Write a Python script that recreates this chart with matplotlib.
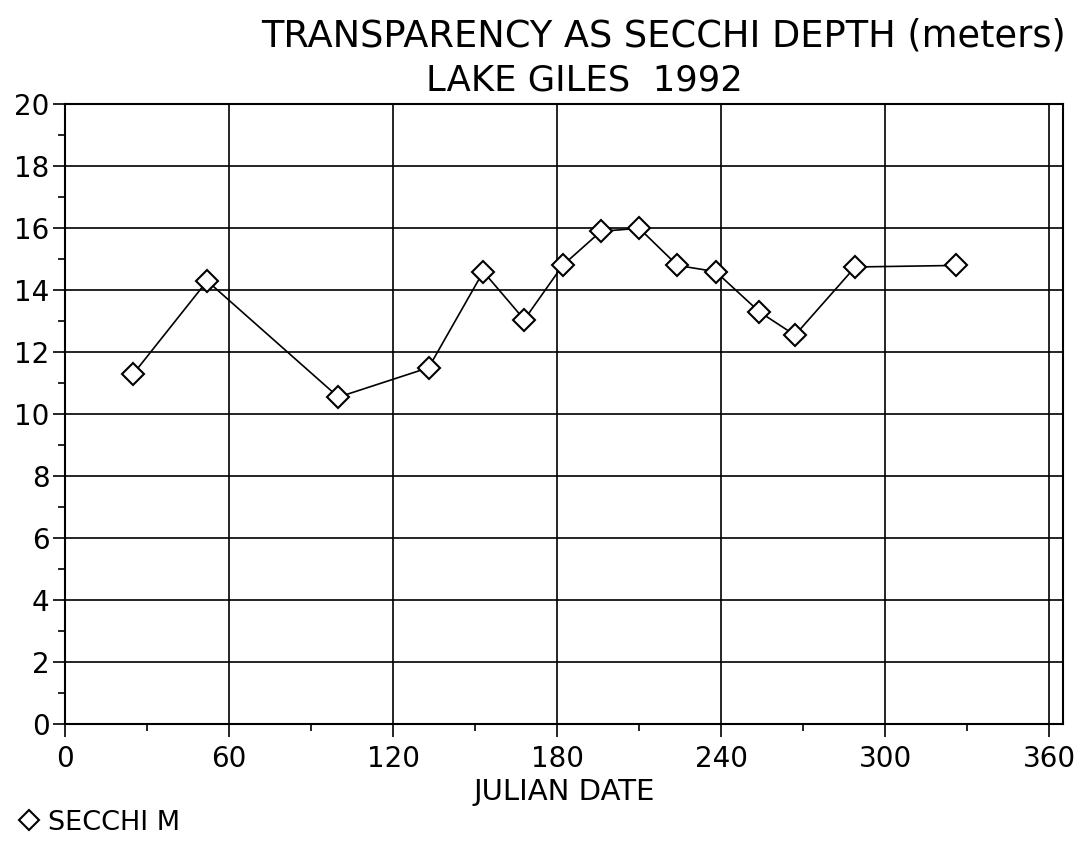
import matplotlib
matplotlib.use('Agg')
import matplotlib.pyplot as plt
from matplotlib.ticker import MultipleLocator

# Secchi depth readings, Lake Giles 1992
julian_day = [25, 52, 100, 133, 153, 168, 182, 196, 210, 224, 238, 254, 267, 289, 326]
secchi_m = [11.3, 14.3, 10.55, 11.5, 14.6, 13.05, 14.8, 15.9, 16.0, 14.8, 14.6, 13.3, 12.55, 14.75, 14.8]

x_ticks = [0, 60, 120, 180, 240, 300, 360]
y_ticks = [0, 2, 4, 6, 8, 10, 12, 14, 16, 18, 20]

plt.rcParams['font.family'] = ['DejaVu Sans']

fig = plt.figure(figsize=(10.83, 8.48), dpi=100)
ax = fig.add_axes([0.06, 0.1462, 0.9215, 0.7308])

ax.plot(julian_day, secchi_m, color='black', lw=1.2, marker='D', ms=11,
        mfc='white', mec='black', mew=1.5, label='SECCHI M', zorder=3)

ax.set_xlim(0, 365)
ax.set_ylim(0, 20)
ax.set_xticks(x_ticks)
ax.set_yticks(y_ticks)
ax.xaxis.set_minor_locator(MultipleLocator(30))
ax.yaxis.set_minor_locator(MultipleLocator(1))
ax.tick_params(which='major', direction='out', length=9, width=1.2, labelsize=20, colors='black')
ax.tick_params(which='minor', direction='out', length=5, width=1.2)
ax.tick_params(axis='x', pad=6)
ax.tick_params(axis='y', pad=2)
ax.grid(True, which='major', color='black', lw=1.2)

for s in ax.spines.values():
    s.set_linewidth(1.5)

ax.set_xlabel('JULIAN DATE', fontsize=21, labelpad=4)

fig.text(0.613, 0.958, 'TRANSPARENCY AS SECCHI DEPTH (meters)', ha='center', va='center', fontsize=26.5)
fig.text(0.54, 0.905, 'LAKE GILES  1992', ha='center', va='center', fontsize=25.5)

ax.legend(loc='center left', bbox_to_anchor=(0.027, 0.03), bbox_transform=fig.transFigure,
          frameon=False, fontsize=19.5, handlelength=0, handletextpad=0.7,
          markerscale=0.95, borderpad=0, borderaxespad=0)

plt.savefig('out.png', dpi=100)
